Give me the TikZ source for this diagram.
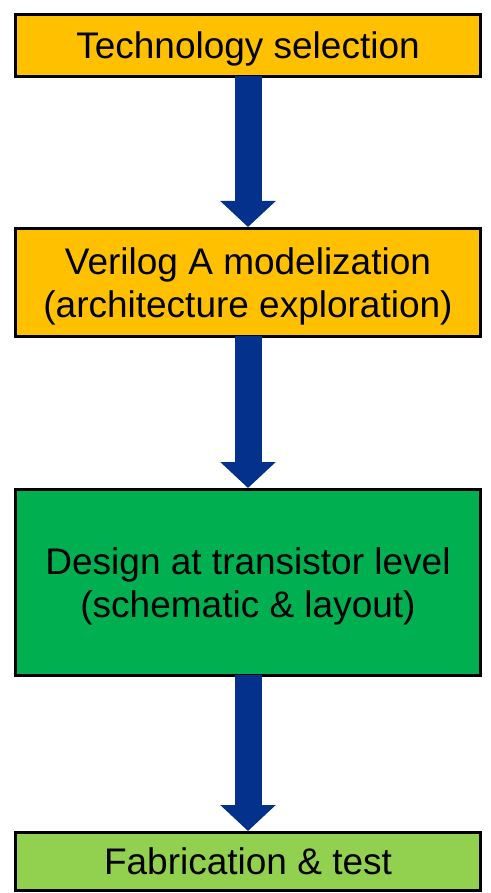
\documentclass[tikz,border=0pt]{standalone}
\usepackage{fontspec}
\setmainfont{Liberation Sans}
\usetikzlibrary{arrows.meta}
\definecolor{stageorange}{HTML}{FFC000}
\definecolor{stagegreen}{HTML}{00B050}
\definecolor{stagelime}{HTML}{92D050}
\definecolor{flowblue}{HTML}{03318C}
\begin{document}
\begin{tikzpicture}[x=1pt,y=-1pt,
  stagebox/.style={draw=black,line width=3pt,inner sep=0pt,minimum width=465pt,
    align=center,font=\fontsize{37}{43}\selectfont,text depth=0pt,text height=26.5pt},
  twoline/.style={text height=69.5pt},
  flow/.style={draw=flowblue,line width=27pt,
    -{Triangle[width=54pt,length=26pt,fill=flowblue]},shorten <=-2pt}
]
\useasboundingbox (0,0) rectangle (490,893);

% process stages
\node[stagebox,fill=stageorange,minimum height=62pt] (tech) at (248,45.5) {Technology selection};
\node[stagebox,twoline,fill=stageorange,minimum height=108pt] (model) at (248,282.5)
  {Verilog A modelization\\(architecture exploration)};
\node[stagebox,twoline,fill=stagegreen,minimum height=186pt] (design) at (248,582.5)
  {Design at transistor level\\(schematic \& layout)};
\node[stagebox,fill=stagelime,minimum height=58pt] (fab) at (248,861.5) {Fabrication \& test};

% flow arrows between stages
\draw[flow] (tech.south) -- (model.north);
\draw[flow] (model.south) -- (design.north);
\draw[flow] (design.south) -- (fab.north);
\end{tikzpicture}
\end{document}
